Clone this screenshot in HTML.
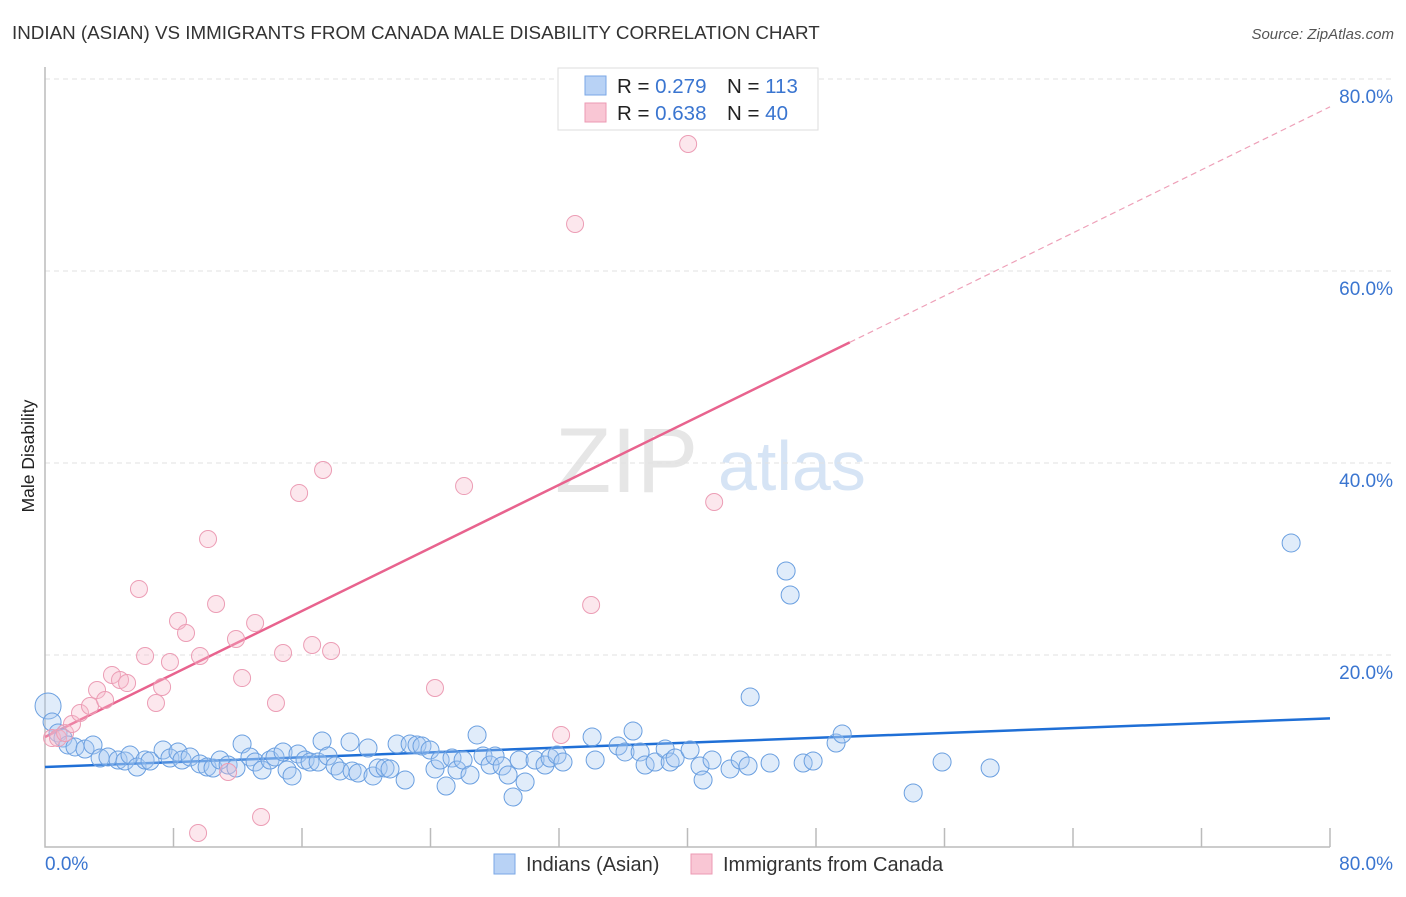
<!DOCTYPE html>
<html><head><meta charset="utf-8"><style>
body{margin:0;background:#fff;font-family:"Liberation Sans",sans-serif;}
svg text{font-family:"Liberation Sans",sans-serif;}
</style></head><body>
<svg id="chart" width="1406" height="892" xmlns="http://www.w3.org/2000/svg">
<text x="12" y="39" font-size="18.8" fill="#333">INDIAN (ASIAN) VS IMMIGRANTS FROM CANADA MALE DISABILITY CORRELATION CHART</text>
<text x="1394" y="39" font-size="15" fill="#555" font-style="italic" text-anchor="end">Source: ZipAtlas.com</text>
<text transform="translate(34,456) rotate(-90)" font-size="17.5" fill="#222" text-anchor="middle">Male Disability</text>
<g>
<text x="555" y="492" font-size="92" fill="#e6e6e6" font-family="Liberation Serif,serif">ZIP</text>
<text x="718" y="490" font-size="70" fill="#d6e4f5">atlas</text>
</g>
<g id="grid"></g>
<g id="axes"></g>
<g id="lines"></g>
<g id="pts"></g>
<g>
<rect x="558" y="68" width="260" height="62" fill="#fff" stroke="#ddd"/>
<rect x="585" y="76" width="21" height="19" fill="#b8d2f5" stroke="#7aa7e6"/>
<rect x="585" y="103" width="21" height="19" fill="#f9c6d4" stroke="#ec9ab3"/>
<text x="617" y="93" font-size="20.5" fill="#222">R = <tspan fill="#3a75d0">0.279</tspan></text>
<text x="727" y="93" font-size="20.5" fill="#222">N = <tspan fill="#3a75d0">113</tspan></text>
<text x="617" y="120" font-size="20.5" fill="#222">R = <tspan fill="#3a75d0">0.638</tspan></text>
<text x="727" y="120" font-size="20.5" fill="#222">N = <tspan fill="#3a75d0">40</tspan></text>
</g>
<g>
<rect x="494" y="854" width="21" height="20" fill="#b8d2f5" stroke="#7aa7e6"/>
<text x="526" y="871" font-size="20" fill="#333">Indians (Asian)</text>
<rect x="691" y="854" width="21" height="20" fill="#f9c6d4" stroke="#ec9ab3"/>
<text x="723" y="871" font-size="20" fill="#333">Immigrants from Canada</text>
</g>
</svg>
<script>
const blueX=[0.19,0.44,0.81,1.12,1.43,1.87,2.49,2.99,3.43,3.92,4.55,4.98,5.29,5.73,6.23,6.54,7.35,7.78,8.28,8.53,9.03,9.65,10.09,10.46,10.90,11.40,11.89,12.27,12.76,13.08,13.51,14.01,14.32,14.82,15.07,15.38,15.75,16.19,16.50,17.00,17.25,17.62,18.06,18.37,18.99,19.12,19.49,20.11,20.42,20.74,21.17,21.48,21.92,22.42,22.73,23.16,23.47,23.97,24.28,24.60,24.97,25.34,25.65,26.03,26.46,26.90,27.27,27.71,28.02,28.46,28.83,29.14,29.52,29.89,30.51,31.13,31.44,31.88,32.25,34.06,34.25,35.68,36.11,36.61,37.05,37.36,37.98,38.61,38.92,39.23,40.16,40.78,40.97,41.53,42.65,43.28,43.77,43.90,45.14,46.14,46.39,47.20,47.82,49.25,49.63,54.05,55.85,58.84,77.58];
const blueY=[14.69,13.02,11.88,11.35,10.63,10.42,10.21,10.63,9.27,9.38,9.06,8.96,9.58,8.33,9.06,8.96,10.10,9.27,9.90,9.06,9.38,8.65,8.33,8.23,9.06,8.54,8.23,10.73,9.38,8.85,8.02,9.06,9.38,9.90,8.02,7.40,9.69,9.06,8.85,8.85,11.04,9.48,8.44,7.92,10.94,7.92,7.71,10.31,7.40,8.23,8.23,8.13,10.73,6.98,10.73,10.63,10.52,10.10,8.13,9.06,6.35,9.27,8.02,9.06,7.50,11.67,9.48,8.54,9.48,8.44,7.50,5.21,9.06,6.77,9.06,8.54,9.27,9.58,8.85,11.46,9.06,10.52,9.90,12.08,9.90,8.54,8.85,10.21,8.85,9.27,10.10,8.44,6.98,9.06,8.13,9.06,8.44,15.63,8.75,28.75,26.25,8.75,8.96,10.83,11.77,5.63,8.85,8.23,31.67];
const pinkX=[0.44,0.81,1.25,1.68,2.18,2.80,3.24,3.74,4.17,4.67,5.11,5.85,6.23,6.91,7.29,7.78,8.28,8.78,9.53,9.65,10.15,10.65,11.40,11.89,12.27,13.08,13.45,14.38,14.82,15.82,16.63,17.31,17.81,24.28,26.09,32.13,33.00,34.00,40.04,41.66];
const pinkY=[11.35,11.35,11.88,12.81,13.96,14.69,16.35,15.31,17.92,17.40,17.08,26.88,19.90,15.00,16.67,19.27,23.54,22.29,1.46,19.90,32.08,25.31,7.81,21.67,17.60,23.33,3.13,15.00,20.21,36.88,21.04,39.27,20.42,16.56,37.60,11.67,64.90,25.21,73.23,35.94];
const yTicks=[20,40,60,80];
const yTickLabels=["20.0%","40.0%","60.0%","80.0%"];
const xTicks=[8,16,24,32,40,48,56,64,72,80];
const trendBlue=[8.33,13.4];
const trendPink=[11.46,77.1];
const pinkSolidEnd=50.1;

const X=v=>45+v*1285/80;
const Y=v=>847-v*9.6;
const NS="http://www.w3.org/2000/svg";
function mk(tag,attrs,parent){const e=document.createElementNS(NS,tag);for(const k in attrs)e.setAttribute(k,attrs[k]);parent.appendChild(e);return e;}
const grid=document.getElementById('grid'),axes=document.getElementById('axes'),lines=document.getElementById('lines'),pts=document.getElementById('pts');
yTicks.forEach((t,i)=>{
  const l=mk('line',{x1:45,x2:1395,y1:Y(t),y2:Y(t),stroke:'#e2e2e2','stroke-dasharray':'5,4'},grid);
  
  
  const tx=mk('text',{x:1393,y:Y(t)+24,'font-size':19,fill:'#3a75d0','text-anchor':'end'},axes);
  tx.textContent=yTickLabels[i];
  
  
});
const ax=mk('path',{d:`M45,67 V847 H1330`,stroke:'#bbb',fill:'none','stroke-width':1.5},axes);


xTicks.forEach(t=>{
  const tk=mk('line',{x1:X(t),x2:X(t),y1:828,y2:847,stroke:'#bbb','stroke-width':1.5},axes);
  
  
});
const xl0=mk('text',{x:45,y:870,'font-size':19,fill:'#3a75d0'},axes);xl0.textContent='0.0%';


const xl1=mk('text',{x:1393,y:870,'font-size':19,fill:'#3a75d0','text-anchor':'end'},axes);xl1.textContent='80.0%';



blueX.forEach((x,i)=>{
  const c=mk('circle',{cx:X(x),cy:Y(blueY[i]),r:i===0?13:9,fill:'rgba(165,200,242,0.35)',stroke:'#6a9fe0','stroke-width':1},pts);
  
  
});
pinkX.forEach((x,i)=>{
  const c=mk('circle',{cx:X(x),cy:Y(pinkY[i]),r:8.5,fill:'rgba(246,185,204,0.35)',stroke:'#ec9db5','stroke-width':1},pts);
  
  
});
const pAt=x=>trendPink[0]+(trendPink[1]-trendPink[0])*x/80;
const bl=mk('line',{x1:X(0),y1:Y(trendBlue[0]),x2:X(80),y2:Y(trendBlue[1]),stroke:'#1f6fd6','stroke-width':2.5},lines);


const pl=mk('line',{x1:X(0),y1:Y(pAt(0)),x2:X(pinkSolidEnd),y2:Y(pAt(pinkSolidEnd)),stroke:'#e8638e','stroke-width':2.5},lines);


const pd=mk('line',{x1:X(pinkSolidEnd),y1:Y(pAt(pinkSolidEnd)),x2:X(80),y2:Y(pAt(80)),stroke:'#eea0b8','stroke-width':1.2,'stroke-dasharray':'6,4'},lines);


</script>
</body></html>
